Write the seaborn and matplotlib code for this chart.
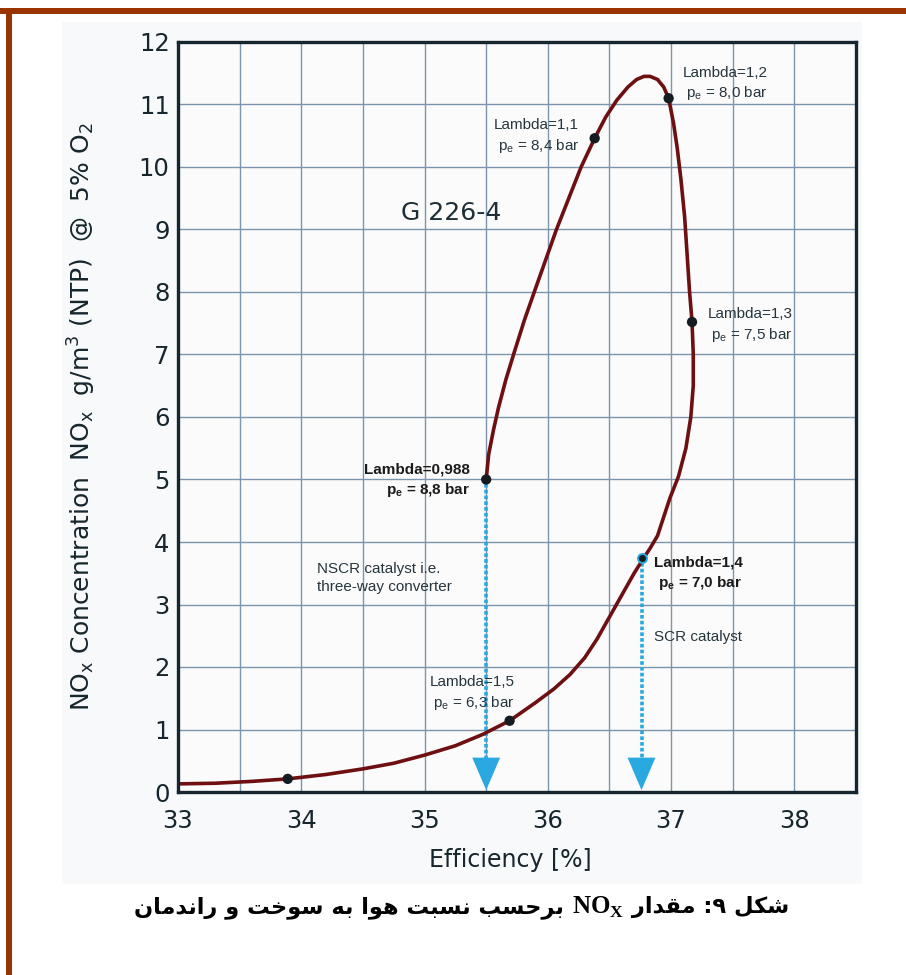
import matplotlib
matplotlib.use("Agg")
import matplotlib.pyplot as plt
from matplotlib.patches import Rectangle, Polygon
from matplotlib.offsetbox import TextArea, HPacker, AnnotationBbox
import numpy as np
import pandas as pd
import seaborn as sns

# NOx vs. efficiency characteristic of the G 226-4 engine, traced along lambda
efficiency = [35.50, 35.52, 35.56, 35.60, 35.66, 35.73, 35.81, 35.89, 35.98, 36.07,
              36.17, 36.27, 36.38, 36.47, 36.56, 36.65, 36.72, 36.78, 36.83, 36.89,
              36.94, 36.98, 37.02, 37.05, 37.08, 37.11, 37.13, 37.15, 37.17, 37.18,
              37.18, 37.16, 37.12, 37.06, 36.99, 36.94, 36.89, 36.83, 36.78, 36.70,
              36.60, 36.50, 36.40, 36.30, 36.18, 36.05, 35.90, 35.69, 35.47, 35.25,
              35.00, 34.75, 34.50, 34.20, 33.89, 33.60, 33.30, 33.00]
nox = [5.00, 5.40, 5.80, 6.15, 6.60, 7.05, 7.55, 8.00, 8.50, 9.00,
       9.50, 10.00, 10.46, 10.80, 11.07, 11.28, 11.40, 11.45, 11.45, 11.40,
       11.28, 11.10, 10.70, 10.30, 9.80, 9.20, 8.60, 8.00, 7.52, 7.00,
       6.50, 6.00, 5.50, 5.05, 4.70, 4.40, 4.10, 3.90, 3.75, 3.50,
       3.15, 2.80, 2.45, 2.15, 1.88, 1.65, 1.43, 1.14, 0.92, 0.74,
       0.59, 0.46, 0.37, 0.28, 0.21, 0.17, 0.14, 0.13]

# marked operating points
pt_eff = [35.50, 36.38, 36.98, 37.17, 35.69, 33.89]
pt_nox = [5.00, 10.46, 11.10, 7.52, 1.14, 0.21]

lambda_labels = ["Lambda=0,988\np$_\\mathregular{e}$ = 8,8 bar",
                 "Lambda=1,1\np$_\\mathregular{e}$ = 8,4 bar",
                 "Lambda=1,2\np$_\\mathregular{e}$ = 8,0 bar",
                 "Lambda=1,3\np$_\\mathregular{e}$ = 7,5 bar",
                 "Lambda=1,4\np$_\\mathregular{e}$ = 7,0 bar",
                 "Lambda=1,5\np$_\\mathregular{e}$ = 6,3 bar"]

# catalyst ranges (arrow start points)
arrow_eff = [35.50, 36.76]
arrow_top = [5.00, 3.75]
catalyst_labels = ["NSCR catalyst i.e.\nthree-way converter", "SCR catalyst"]

x_ticks = [33, 34, 35, 36, 37, 38]
y_ticks = list(range(0, 13))

sns.set_theme(style="white")
plt.rcParams["font.family"] = ["DejaVu Sans"]

fig = plt.figure(figsize=(9.06, 9.75), dpi=100)
fig.patch.set_facecolor("white")

# light panel behind the chart
fig.add_artist(Rectangle((62 / 906, 1 - 884 / 975), 800 / 906, 862 / 975,
                         transform=fig.transFigure, facecolor="#f8f9fa",
                         edgecolor="none", zorder=0))
# page frame
fig.add_artist(Rectangle((0, 1 - 14 / 975), 1, 6 / 975, transform=fig.transFigure,
                         facecolor="#993300", edgecolor="none", zorder=1))
fig.add_artist(Rectangle((6 / 906, 0), 6 / 906, 1 - 8 / 975, transform=fig.transFigure,
                         facecolor="#993300", edgecolor="none", zorder=1))

ax = fig.add_axes([178 / 906, 1 - 792 / 975, 678 / 906, 750 / 975])
ax.set_facecolor("#fbfbfc")
ax.set_xlim(33, 38.5)
ax.set_ylim(0, 12)

ax.set_xticks(x_ticks)
ax.set_xticks(np.arange(33.5, 38.5, 1.0), minor=True)
ax.set_yticks(y_ticks)
ax.grid(True, which="both", color="#7c95ad", linewidth=1.0)
ax.set_axisbelow(True)
ax.tick_params(axis="both", which="both", length=0, labelsize=17.5, colors="#17252c")
ax.tick_params(axis="x", pad=12)
ax.tick_params(axis="y", pad=6)
for s in ax.spines.values():
    s.set_color("#15262e")
    s.set_linewidth(2.4)
    s.set_zorder(6)

curve = pd.DataFrame({"eff": efficiency, "nox": nox})
sns.lineplot(data=curve, x="eff", y="nox", sort=False, estimator=None,
             color="#6e0f12", linewidth=2.6, ax=ax, zorder=4,
             solid_joinstyle="round", solid_capstyle="round")

# catalyst arrows
blue = "#2aa8e0"
for xe, yt in zip(arrow_eff, arrow_top):
    ax.plot([xe, xe], [yt - 0.08, 0.55], color=blue, linewidth=2.6,
            linestyle=(0, (1.0, 0.6)), zorder=3)
    ax.add_patch(Polygon([[xe - 0.113, 0.55], [xe + 0.113, 0.55], [xe, 0.03]],
                         closed=True, facecolor=blue, edgecolor="none", zorder=3))

pts = pd.DataFrame({"eff": pt_eff, "nox": pt_nox})
sns.scatterplot(data=pts, x="eff", y="nox", color="#141c22", s=55,
                edgecolor="none", ax=ax, zorder=5)
ax.scatter([arrow_eff[1]], [arrow_top[1]], s=42, facecolor="#141c22",
           edgecolor=blue, linewidth=1.4, zorder=6)

ax.set_xlabel("Efficiency [%]", fontsize=17, color="#17252c")
ax.set_ylabel("NO$_\\mathregular{x}$ Concentration  NO$_\\mathregular{x}$  g/m$^\\mathregular{3}$ (NTP)  @  5% O$_\\mathregular{2}$",
              fontsize=18, color="#17252c")
ax.xaxis.set_label_coords(0.49, -0.075)
ax.yaxis.set_label_coords(-0.118, 0.5)

tc = "#27353d"
fs = 11
common = dict(fontsize=fs, linespacing=1.35, family="Liberation Sans", va="center")
ax.text(34.81, 9.26, "G 226-4", fontsize=18, color="#1f2e36", ha="left", va="center")
ax.text(35.37, 4.98, lambda_labels[0], fontweight="bold", color="#1b1b1b",
        ha="right", multialignment="right", **common)
ax.text(35.91, 10.49, lambda_labels[1], color=tc, ha="center", multialignment="right", **common)
ax.text(37.44, 11.33, lambda_labels[2], color=tc, ha="center", multialignment="right", **common)
ax.text(37.64, 7.46, lambda_labels[3], color=tc, ha="center", multialignment="right", **common)
ax.text(37.22, 3.49, lambda_labels[4], fontweight="bold", color="#1b1b1b",
        ha="center", multialignment="right", **common)
ax.text(35.39, 1.58, lambda_labels[5], color=tc, ha="center", multialignment="right", **common)
ax.text(34.13, 3.42, catalyst_labels[0], color=tc, ha="left", multialignment="left", **common)
ax.text(36.86, 2.48, catalyst_labels[1], color=tc, ha="left", **common)


# Persian caption: contextual letter forms laid out right-to-left
FORMS = {
    "ش": ("\uFEB5", "\uFEB6", "\uFEB7", "\uFEB8"),
    "ک": ("\uFB8E", "\uFB8F", "\uFB90", "\uFB91"),
    "ل": ("\uFEDD", "\uFEDE", "\uFEDF", "\uFEE0"),
    "م": ("\uFEE1", "\uFEE2", "\uFEE3", "\uFEE4"),
    "ق": ("\uFED5", "\uFED6", "\uFED7", "\uFED8"),
    "د": ("\uFEA9", "\uFEAA", None, None),
    "ا": ("\uFE8D", "\uFE8E", None, None),
    "ر": ("\uFEAD", "\uFEAE", None, None),
    "ب": ("\uFE8F", "\uFE90", "\uFE91", "\uFE92"),
    "ح": ("\uFEA1", "\uFEA2", "\uFEA3", "\uFEA4"),
    "س": ("\uFEB1", "\uFEB2", "\uFEB3", "\uFEB4"),
    "ن": ("\uFEE5", "\uFEE6", "\uFEE7", "\uFEE8"),
    "ت": ("\uFE95", "\uFE96", "\uFE97", "\uFE98"),
    "ه": ("\uFEE9", "\uFEEA", "\uFEEB", "\uFEEC"),
    "و": ("\uFEED", "\uFEEE", None, None),
    "خ": ("\uFEA5", "\uFEA6", "\uFEA7", "\uFEA8"),
}


def joins_next(ch):
    return ch in FORMS and FORMS[ch][2] is not None


def shape_rtl(text):
    out = []
    for i, ch in enumerate(text):
        if ch not in FORMS:
            out.append(ch)
            continue
        prev_j = i > 0 and joins_next(text[i - 1])
        next_ok = i + 1 < len(text) and text[i + 1] in FORMS
        can_next = joins_next(ch) and next_ok
        iso, fin, ini, med = FORMS[ch]
        if prev_j and can_next:
            out.append(med)
        elif prev_j:
            out.append(fin)
        elif can_next:
            out.append(ini)
        else:
            out.append(iso)
    return "".join(out)[::-1]


caption_right = "شکل ۹: مقدار "
caption_left = " برحسب نسبت هوا به سوخت و راندمان"
cap_props = dict(fontsize=16.2, fontweight="bold", color="black", family="DejaVu Sans")
box = HPacker(children=[
    TextArea(shape_rtl(caption_left), textprops=cap_props),
    TextArea("NO$_\\mathregular{X}$", textprops=dict(fontsize=18, fontweight="bold",
                                                      color="black", family="Liberation Serif")),
    TextArea(shape_rtl(caption_right), textprops=cap_props),
], align="baseline", pad=0, sep=0)
fig.add_artist(AnnotationBbox(box, (462 / 906, 1 - 907 / 975), xycoords="figure fraction",
                              frameon=False, box_alignment=(0.5, 0.5)))

fig.savefig("out.png", dpi=100, facecolor="white")
